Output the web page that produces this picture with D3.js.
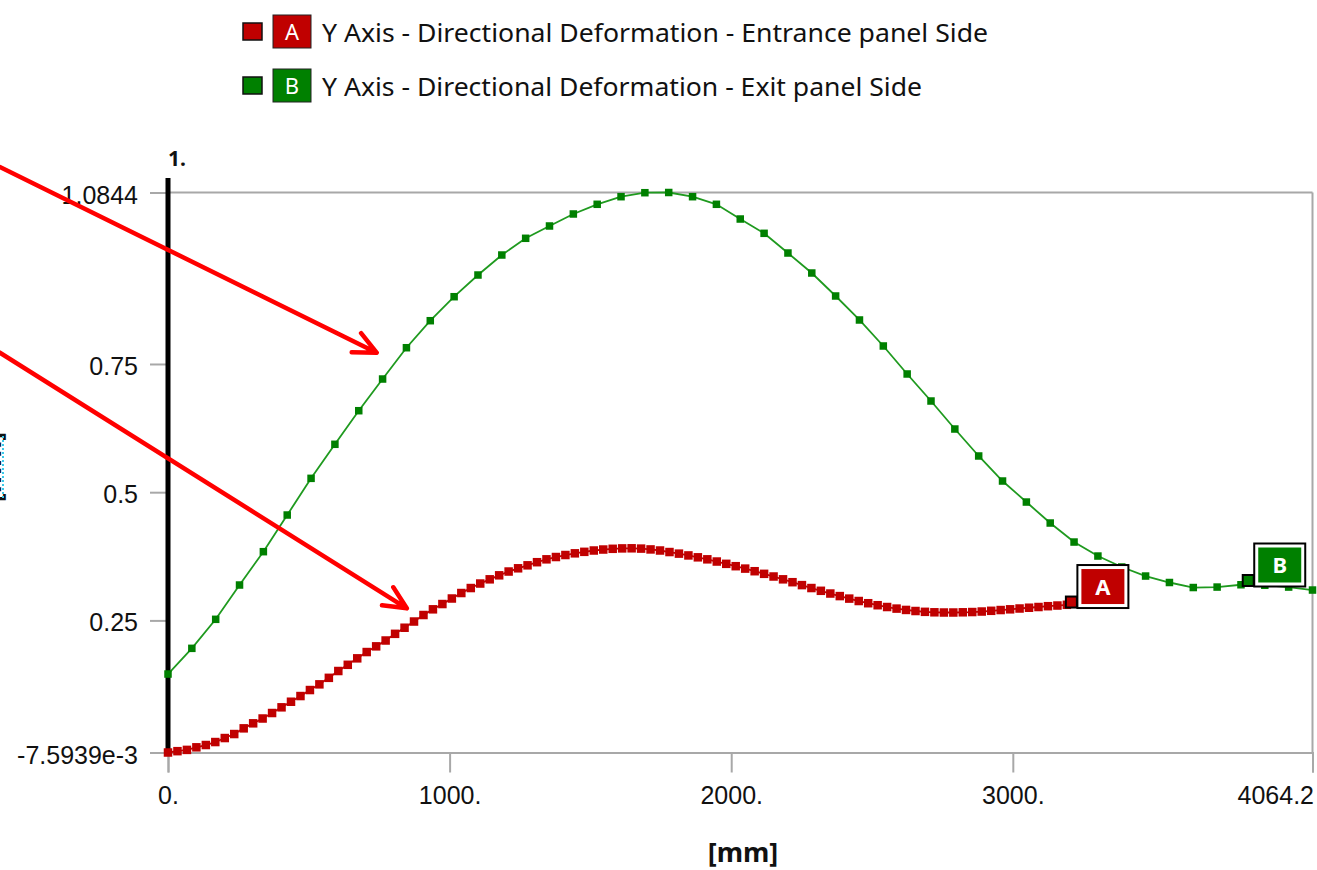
<!DOCTYPE html>
<html>
<head>
<meta charset="utf-8">
<script src="https://cdn.jsdelivr.net/npm/d3@7"></script>
<style>
  html, body { margin: 0; padding: 0; background: #fff; }
  svg { display: block; font-family: "Noto Sans", "DejaVu Sans", sans-serif; }
</style>
</head>
<body>
<div class="chart"></div>
<script>
// path lengths [mm]
const exitLength = 4064.2;
const entranceLength = 3192;

// Y Axis - Directional Deformation - Entrance panel Side (A), 96 stations
const entranceValues = [
  -0.0076, -0.0050, -0.0025, 0.0025, 0.0070, 0.0128, 0.0206, 0.0284, 0.0395, 0.0493,
  0.0587, 0.0694, 0.0805, 0.0914, 0.1025, 0.1142, 0.1253, 0.1380, 0.1513, 0.1634,
  0.1760, 0.1883, 0.1994, 0.2108, 0.2238, 0.2357, 0.2478, 0.2605, 0.2716, 0.2819,
  0.2927, 0.3034, 0.3131, 0.3219, 0.3301, 0.3379, 0.3453, 0.3516, 0.3574, 0.3635,
  0.3691, 0.3736, 0.3775, 0.3808, 0.3837, 0.3863, 0.3882, 0.3896, 0.3904, 0.3906,
  0.3900, 0.3884, 0.3863, 0.3833, 0.3802, 0.3767, 0.3730, 0.3691, 0.3648, 0.3603,
  0.3557, 0.3510, 0.3459, 0.3408, 0.3356, 0.3301, 0.3245, 0.3188, 0.3131, 0.3077,
  0.3024, 0.2974, 0.2925, 0.2878, 0.2835, 0.2796, 0.2761, 0.2730, 0.2704, 0.2683,
  0.2667, 0.2658, 0.2654, 0.2654, 0.2658, 0.2663, 0.2673, 0.2687, 0.2702, 0.2716,
  0.2732, 0.2747, 0.2761, 0.2777, 0.2790, 0.2804
];

// Y Axis - Directional Deformation - Exit panel Side (B), 49 stations
const exitValues = [
  0.1454, 0.1955, 0.2521, 0.3190, 0.3840, 0.4555, 0.5270, 0.5934, 0.6589, 0.7207,
  0.7817, 0.8344, 0.8812, 0.9235, 0.9625, 0.9951, 1.0191, 1.0425, 1.0614, 1.0762,
  1.0840, 1.0844, 1.0762, 1.0614, 1.0327, 1.0048, 0.9664, 0.9274, 0.8826, 0.8358,
  0.7851, 0.7305, 0.6778, 0.6232, 0.5706, 0.5218, 0.4808, 0.4399, 0.4028, 0.3755,
  0.3541, 0.3365, 0.3239, 0.3141, 0.3150, 0.3195, 0.3185, 0.3150, 0.3092
];

const xTicks = [0, 1000, 2000, 3000, 4064.2];
const xTickLabels = ["0.", "1000.", "2000.", "3000.", "4064.2"];
const yTicks = [-7.5939e-3, 0.25, 0.5, 0.75, 1.0844];
const yTickLabels = ["-7.5939e-3", "0.25", "0.5", "0.75", "1.0844"];

const legendLabels = [
  "Y Axis - Directional Deformation - Entrance panel Side",
  "Y Axis - Directional Deformation - Exit panel Side"
];
const probeNames = ["A", "B"];
const probeX = [3208, 3836];
const probeY = [0.2858, 0.3278];

// annotation arrows [x0, y0, x1, y1] in data units
const arrows = [
  [-597, 1.1341, 741, 0.772],
  [-597, 0.7720, 848, 0.2736]
];

const red = "#c00000", green = "#008000";

const svg = d3.select(".chart").append("svg")
  .attr("width", 1317)
  .attr("height", 870);

const x = d3.scaleLinear().domain([0, exitLength]).range([168, 1312.5]);
const y = d3.scaleLinear().domain([-7.5939e-3, 1.0844]).range([752.5, 192.5]);

const entrance = entranceValues.map((v, i) => ({ x: i * entranceLength / (entranceValues.length - 1), y: v }));
const exit = exitValues.map((v, i) => ({ x: i * exitLength / (exitValues.length - 1), y: v }));

// frame
const gray = "#a8a8a8";
svg.append("line").attr("x1", x(0)).attr("x2", x(exitLength))
  .attr("y1", y(1.0844)).attr("y2", y(1.0844))
  .attr("stroke", gray).attr("stroke-width", 2);
svg.append("line").attr("x1", x(exitLength)).attr("x2", x(exitLength))
  .attr("y1", y(1.0844)).attr("y2", y(-7.5939e-3))
  .attr("stroke", gray).attr("stroke-width", 2);

const xAxis = d3.axisBottom(x)
  .tickValues(xTicks)
  .tickFormat((d, i) => xTickLabels[i])
  .tickSize(20)
  .tickPadding(14);
const gx = svg.append("g")
  .attr("transform", `translate(0, ${y(-7.5939e-3)})`)
  .call(xAxis);
gx.select(".domain").attr("stroke", gray).attr("stroke-width", 2);
gx.selectAll(".tick line").attr("stroke", gray).attr("stroke-width", 2);
gx.selectAll(".tick text")
  .attr("fill", "#111").style("font-size", "25px")
  .attr("text-anchor", (d, i) => i === xTicks.length - 1 ? "end" : "middle")
  .attr("dx", (d, i) => i === xTicks.length - 1 ? 1 : 0);

const yAxis = d3.axisLeft(y)
  .tickValues(yTicks)
  .tickFormat((d, i) => yTickLabels[i])
  .tickSize(18)
  .tickPadding(12);
const gy = svg.append("g")
  .attr("transform", `translate(${x(0)}, 0)`)
  .call(yAxis);
gy.select(".domain").remove();
gy.selectAll(".tick line").attr("stroke", gray).attr("stroke-width", 2);
gy.selectAll(".tick text").attr("fill", "#111").style("font-size", "25px").attr("dy", "0.42em");

svg.append("text")
  .attr("x", 743).attr("y", 862)
  .attr("text-anchor", "middle")
  .style("font-size", "27px").style("font-weight", "bold")
  .attr("fill", "#111")
  .text("[mm]");

// y title, mostly cut off at the left edge as in the source view
svg.append("text")
  .attr("transform", `translate(1, 467) rotate(-90)`)
  .attr("text-anchor", "middle")
  .style("font-size", "27px").style("font-weight", "bold")
  .attr("fill", "#111")
  .text("[mm]");
svg.append("line").attr("x1", 3).attr("x2", 3).attr("y1", 436).attr("y2", 500)
  .attr("stroke", "#3cc8e8").attr("stroke-width", 2).attr("stroke-dasharray", "2,2");

// cursor line
svg.append("line")
  .attr("x1", x(0)).attr("x2", x(0))
  .attr("y1", 178).attr("y2", y(-7.5939e-3))
  .attr("stroke", "#000").attr("stroke-width", 5);
svg.append("text")
  .attr("x", x(0)).attr("y", 166)
  .style("font-size", "21px").style("font-weight", "bold")
  .attr("fill", "#111")
  .text("1.");

const line = d3.line().x(d => x(d.x)).y(d => y(d.y));

svg.append("path").datum(exit)
  .attr("d", line).attr("fill", "none")
  .attr("stroke", "#1f9a1f").attr("stroke-width", 1.8);
svg.append("path").datum(entrance)
  .attr("d", line).attr("fill", "none")
  .attr("stroke", red).attr("stroke-width", 1.8);

const msG = 7.5, msR = 8.5;
svg.append("g").selectAll("rect")
  .data(exit).enter().append("rect")
  .attr("x", d => x(d.x) - msG / 2).attr("y", d => y(d.y) - msG / 2)
  .attr("width", msG).attr("height", msG)
  .attr("fill", green);
svg.append("g").selectAll("rect")
  .data(entrance).enter().append("rect")
  .attr("x", d => x(d.x) - msR / 2).attr("y", d => y(d.y) - msR / 2)
  .attr("width", msR).attr("height", msR)
  .attr("fill", red);

// probes
const probeColors = [red, green];
probeNames.forEach((name, i) => {
  const px = x(probeX[i]), py = y(probeY[i]);
  const g = svg.append("g");
  g.append("rect")
    .attr("x", px - 5.5).attr("y", py - 5.5)
    .attr("width", 11).attr("height", 11)
    .attr("fill", probeColors[i]).attr("stroke", "#000").attr("stroke-width", 2);
  const bw = 51, bh = 43, bx = px + 6, by = py + 6 - bh;
  g.append("rect")
    .attr("x", bx).attr("y", by).attr("width", bw).attr("height", bh)
    .attr("fill", "#fff").attr("stroke", "#000").attr("stroke-width", 2);
  g.append("rect")
    .attr("x", bx + 4).attr("y", by + 4).attr("width", bw - 8).attr("height", bh - 8)
    .attr("fill", probeColors[i]);
  g.append("text")
    .attr("x", bx + bw / 2).attr("y", by + bh / 2 + 8)
    .attr("text-anchor", "middle")
    .style("font-size", "22px").style("font-weight", "bold")
    .attr("fill", "#fff")
    .text(name);
});

// legend
legendLabels.forEach((label, i) => {
  const cy = 32 + i * 54;
  svg.append("rect")
    .attr("x", 243).attr("y", cy - 9).attr("width", 19).attr("height", 17)
    .attr("fill", probeColors[i]).attr("stroke", "#111").attr("stroke-width", 1.5);
  svg.append("rect")
    .attr("x", 273).attr("y", cy - 17).attr("width", 38).attr("height", 33)
    .attr("fill", probeColors[i]).attr("stroke", "#222").attr("stroke-width", 1);
  svg.append("text")
    .attr("x", 292).attr("y", cy + 8)
    .attr("text-anchor", "middle")
    .style("font-size", "22px")
    .attr("fill", "#fff")
    .text(probeNames[i]);
  svg.append("text")
    .attr("x", 322).attr("y", cy + 10)
    .style("font-size", "25px")
    .attr("fill", "#111")
    .attr("textLength", i === 0 ? 666 : 600)
    .attr("lengthAdjust", "spacingAndGlyphs")
    .text(label);
});

// annotation arrows
arrows.forEach(a => {
  const x0 = x(a[0]), y0 = y(a[1]), x1 = x(a[2]), y1 = y(a[3]);
  const ang = Math.atan2(y0 - y1, x0 - x1);
  const L = 25, spread = 0.44;
  const w1 = [x1 + L * Math.cos(ang + spread), y1 + L * Math.sin(ang + spread)];
  const w2 = [x1 + L * Math.cos(ang - spread), y1 + L * Math.sin(ang - spread)];
  svg.append("path")
    .attr("d", `M${x0},${y0}L${x1},${y1}M${w1[0]},${w1[1]}L${x1},${y1}L${w2[0]},${w2[1]}`)
    .attr("fill", "none").attr("stroke", "#ff0000")
    .attr("stroke-width", 4.5).attr("stroke-linecap", "round").attr("stroke-linejoin", "round");
});
</script>
</body>
</html>
